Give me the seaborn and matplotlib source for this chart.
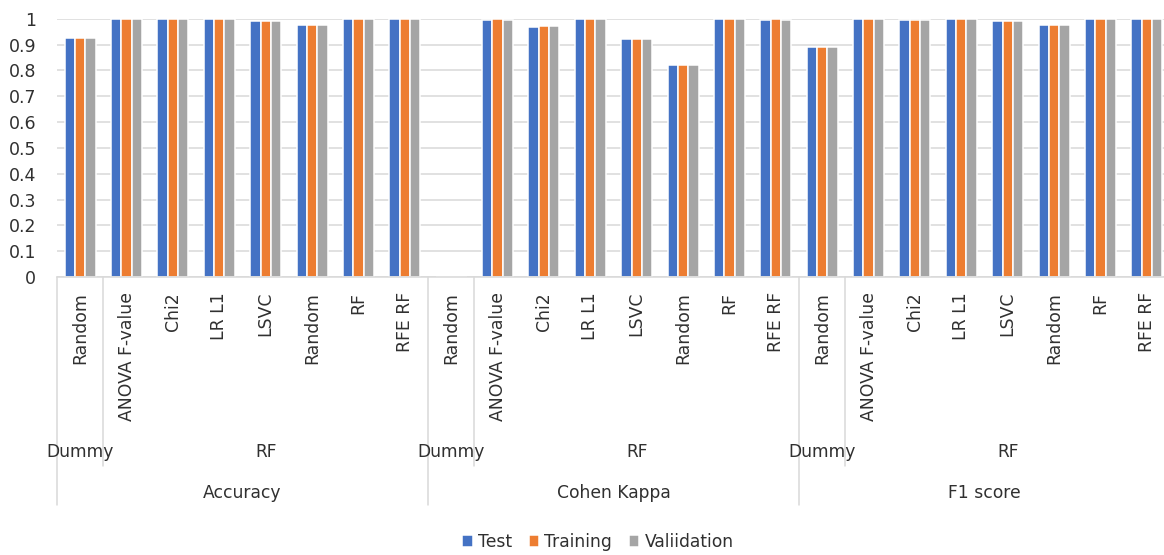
import matplotlib
matplotlib.use("Agg")
import matplotlib.pyplot as plt
import matplotlib.transforms as mtransforms
import numpy as np
import pandas as pd
import seaborn as sns

# ---- data -------------------------------------------------------------
metrics = ["Accuracy", "Cohen Kappa", "F1 score"]
models = ["Dummy", "RF", "RF", "RF", "RF", "RF", "RF", "RF"]
selectors = ["Random", "ANOVA F-value", "Chi2", "LR L1", "LSVC", "Random", "RF", "RFE RF"]
series = ["Test", "Training", "Valiidation"]

test_vals = [0.927, 1.0, 0.997, 1.0, 0.990, 0.974, 1.0, 1.0,
             0.0, 0.996, 0.967, 1.0, 0.923, 0.822, 1.0, 0.996,
             0.890, 1.0, 0.996, 1.0, 0.990, 0.974, 1.0, 1.0]
train_vals = [0.927, 1.0, 0.997, 1.0, 0.990, 0.974, 1.0, 1.0,
              0.0, 1.0, 0.970, 1.0, 0.923, 0.822, 1.0, 1.0,
              0.890, 1.0, 0.996, 1.0, 0.990, 0.974, 1.0, 1.0]
val_vals = [0.927, 1.0, 0.997, 1.0, 0.990, 0.974, 1.0, 1.0,
            0.0, 0.996, 0.970, 1.0, 0.923, 0.822, 1.0, 0.996,
            0.890, 1.0, 0.996, 1.0, 0.990, 0.974, 1.0, 1.0]

colors = ["#4472C4", "#ED7D31", "#A5A5A5"]

# ---- long-form table ----------------------------------------------------
keys = [f"{m}|{i}" for m in metrics for i in range(len(selectors))]
rows = []
for name, vals in zip(series, [test_vals, train_vals, val_vals]):
    for k, v in zip(keys, vals):
        rows.append({"slot": k, "series": name, "score": v})
df = pd.DataFrame(rows)

# ---- figure -------------------------------------------------------------
sns.set_theme(style="white")
plt.rcParams["font.family"] = ["DejaVu Sans"]
text_color = "#303030"
line_color = "#D9D9D9"

W, H = 1164, 555
fig = plt.figure(figsize=(W / 100, H / 100), dpi=100)

left_px, base_px, top_px, cat_px = 57, 277, 18.7, 46.375
n_cat = len(keys)
ax = fig.add_axes([left_px / W, (H - base_px) / H,
                   n_cat * cat_px / W, (base_px - top_px) / H])

sns.barplot(data=df, x="slot", y="score", hue="series", order=keys,
            hue_order=series, palette=colors, saturation=1, width=0.67,
            edgecolor="white", linewidth=1.1, ax=ax)

ax.set_xlim(-0.5, n_cat - 0.5)
ax.set_ylim(0, 1)
ax.set_yticks(np.arange(0, 1.01, 0.1))
ax.set_yticklabels(["0"] + [f"{t:.1f}" for t in np.arange(0.1, 0.95, 0.1)] + ["1"])
ax.tick_params(axis="y", length=0, pad=15, labelsize=12.5, labelcolor=text_color)
ax.set_xticks([])
ax.set_xlabel("")
ax.set_ylabel("")
ax.grid(axis="y", color=line_color, linewidth=1.1)
ax.set_axisbelow(True)
for s in ["left", "top", "right"]:
    ax.spines[s].set_visible(False)
ax.spines["bottom"].set_color(line_color)
ax.spines["bottom"].set_linewidth(1.1)

# ---- multi-level category axis -------------------------------------------
span = base_px - top_px


def ax_y(px):
    return (base_px - px) / span


trans = mtransforms.blended_transform_factory(ax.transData, ax.transAxes)
n_sel = len(selectors)
for g, metric in enumerate(metrics):
    start = g * n_sel
    # selector labels, rotated
    for i, sel in enumerate(selectors):
        ax.text(start + i, ax_y(292), sel, rotation=90, ha="center", va="top",
                fontsize=12.4, color=text_color, transform=trans, clip_on=False)
    # model labels
    ax.text(start, ax_y(452), models[0], ha="center", va="center",
            fontsize=12.3, color=text_color, transform=trans, clip_on=False)
    rf_mid = start + (1 + n_sel - 1) / 2
    ax.text(rf_mid, ax_y(452), models[1], ha="center", va="center",
            fontsize=12.3, color=text_color, transform=trans, clip_on=False)
    # metric labels
    ax.text(start + (n_sel - 1) / 2, ax_y(493), metric, ha="center", va="center",
            fontsize=12.3, color=text_color, transform=trans, clip_on=False)
    # separators
    ax.plot([start - 0.5, start - 0.5], [0, ax_y(505)], color=line_color,
            linewidth=1.1, transform=trans, clip_on=False)
    ax.plot([start + 0.5, start + 0.5], [0, ax_y(466)], color=line_color,
            linewidth=1.1, transform=trans, clip_on=False)

# ---- legend ---------------------------------------------------------------
handles, labels = ax.get_legend_handles_labels()
ax.legend(handles, labels, loc="center", bbox_to_anchor=(598 / W, 1 - 542 / H),
          bbox_transform=fig.transFigure, ncol=3, frameon=False,
          handlelength=0.6, handleheight=0.7, handletextpad=0.3,
          columnspacing=1.0, fontsize=12.3, labelcolor=text_color)

fig.savefig("out.png", dpi=100)
